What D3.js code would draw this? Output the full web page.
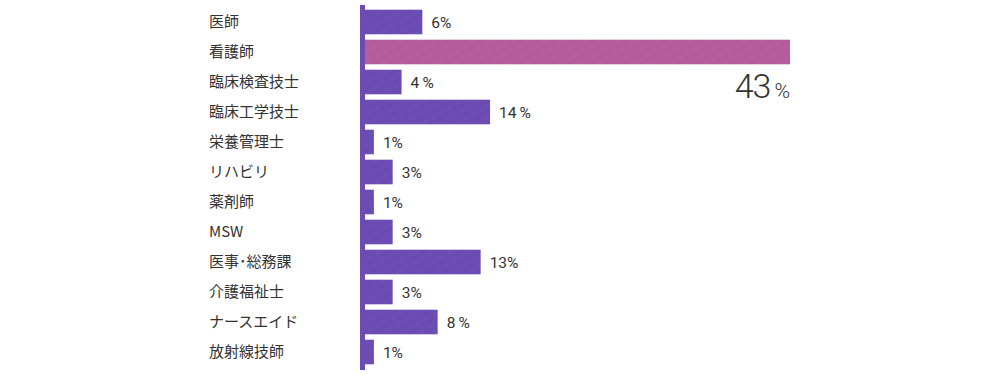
<!DOCTYPE html>
<meta charset="utf-8">
<title>職種別割合</title>
<script src="https://d3js.org/d3.v7.min.js"></script>
<style>
    body { margin: 0; background: #fff; }
    text { font-family: "Noto Sans CJK JP", "Noto Sans", sans-serif; fill: #333; }
    .num { font-family: Roboto, "Noto Sans", sans-serif; }
</style>
<body>
<div id="chart"></div>
<script>
    // data
    var jobs = ["医師", "看護師", "臨床検査技士", "臨床工学技士", "栄養管理士", "リハビリ",
        "薬剤師", "MSW", "医事･総務課", "介護福祉士", "ナースエイド", "放射線技師"];
    var shares = [5.8, 43, 3.7, 12.65, 0.9, 2.8, 0.9, 2.8, 11.7, 2.8, 7.35, 0.9];
    var shareLabels = ["6%", "43", "4\u2009%", "14\u2009%", "1%", "3%", "1%", "3%", "13%", "3%", "8\u2009%", "1%"];
    var highlightJob = "看護師";

    var width = 1000, height = 375;

    var svg = d3.select("#chart").append("svg")
        .attr("width", width)
        .attr("height", height);

    // faint scratchy texture for the bars
    var defs = svg.append("defs");
    function texture(id, base) {
        var p = defs.append("pattern")
            .attr("id", id)
            .attr("patternUnits", "userSpaceOnUse")
            .attr("width", 9).attr("height", 9)
            .attr("patternTransform", "rotate(-30)");
        p.append("rect").attr("width", 9).attr("height", 9).attr("fill", base);
        p.append("line").attr("x1", 0).attr("y1", 3).attr("x2", 5).attr("y2", 3)
            .attr("stroke", "#fff").attr("stroke-opacity", 0.05).attr("stroke-width", 1);
        p.append("line").attr("x1", 4).attr("y1", 7).attr("x2", 9).attr("y2", 7)
            .attr("stroke", "#000").attr("stroke-opacity", 0.04).attr("stroke-width", 1);
    }
    texture("tex-purple", "#6a4cb2");
    texture("tex-pink", "#b65c9b");

    var x = d3.scaleLinear()
        .domain([0, 43])
        .range([365, 790]);

    var y = d3.scaleBand()
        .domain(jobs)
        .range([7, 367])
        .paddingInner(0.18)
        .paddingOuter(0.09);

    // category labels
    svg.selectAll(".job")
        .data(jobs).enter()
        .append("text")
        .attr("class", "job")
        .attr("x", 209)
        .attr("y", function(d) { return y(d) + y.bandwidth() / 2; })
        .attr("dy", "0.36em")
        .style("font-size", "15px")
        .text(function(d) { return d; });

    // bars
    svg.selectAll(".bar")
        .data(jobs).enter()
        .append("rect")
        .attr("class", "bar")
        .attr("x", x(0))
        .attr("y", function(d) { return y(d); })
        .attr("width", function(d, i) { return x(shares[i]) - x(0); })
        .attr("height", y.bandwidth())
        .attr("fill", function(d) { return d == highlightJob ? "url(#tex-pink)" : "url(#tex-purple)"; });

    // axis line
    svg.append("rect")
        .attr("x", x(0) - 5)
        .attr("y", 5)
        .attr("width", 5)
        .attr("height", 365)
        .attr("fill", "#6a4cb2");

    // value labels
    jobs.forEach(function(d, i) {
        if (d == highlightJob) {
            var t = svg.append("text")
                .attr("class", "num")
                .attr("x", x(shares[i]))
                .attr("y", y(d) + y.bandwidth() + 34)
                .attr("text-anchor", "end")
                .style("font-weight", 300);
            t.append("tspan").style("font-size", "34px").style("letter-spacing", "-1px").text(shareLabels[i]);
            t.append("tspan").attr("dx", 4).style("font-size", "21px").text("%");
        } else {
            svg.append("text")
                .attr("class", "num")
                .attr("x", x(shares[i]) + 9)
                .attr("y", y(d) + y.bandwidth() / 2)
                .attr("dy", "0.36em")
                .style("font-size", "15.5px")
                .text(shareLabels[i]);
        }
    });
</script>
</body>
